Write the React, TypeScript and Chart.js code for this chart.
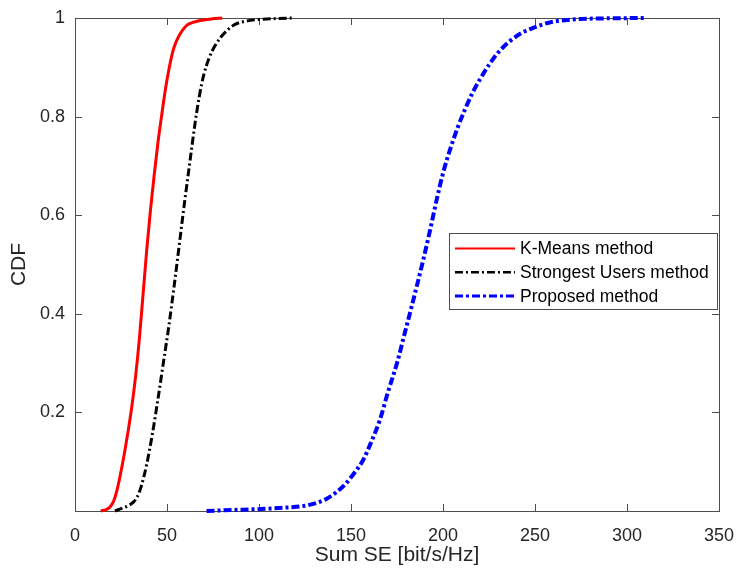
import React, { useEffect, useRef } from "react";
import { Chart, registerables } from "chart.js";

Chart.register(...registerables);

// K-Means method (CDF)
const kmeansX = [14, 17, 19, 21, 23, 25, 27, 29, 31, 33, 35, 37, 39, 41, 43, 45, 47, 49, 51, 53, 55, 57, 59, 61, 64, 68, 74, 80];
const kmeansY = [0, 0.003, 0.008, 0.02, 0.045, 0.08, 0.12, 0.165, 0.215, 0.275, 0.35, 0.44, 0.53, 0.61, 0.68, 0.745, 0.8, 0.852, 0.895, 0.93, 0.952, 0.967, 0.978, 0.986, 0.991, 0.995, 0.998, 1];

// Strongest Users method (CDF)
const strongestX = [21.7, 26, 29, 31.7, 34, 36, 39, 42, 45, 48, 51, 54, 57, 59.5, 62.5, 65, 67.5, 70, 73, 76, 79, 83, 87, 92, 100, 110, 118];
const strongestY = [0, 0.006, 0.011, 0.018, 0.03, 0.05, 0.095, 0.155, 0.225, 0.3, 0.375, 0.46, 0.55, 0.625, 0.71, 0.78, 0.84, 0.885, 0.92, 0.943, 0.96, 0.976, 0.987, 0.993, 0.997, 0.999, 1];

// Proposed method (CDF)
const proposedX = [71.5, 85, 100.5, 115, 124, 131, 136.8, 142, 147, 152, 156.7, 161, 165.8, 170, 175, 179.3, 184, 189.3, 193, 196.6, 200, 204, 208, 212, 216, 220, 225, 230, 236, 242, 249, 258, 270, 285, 310];
const proposedY = [0, 0.002, 0.004, 0.007, 0.01, 0.016, 0.025, 0.038, 0.055, 0.078, 0.104, 0.14, 0.186, 0.24, 0.3, 0.362, 0.43, 0.51, 0.57, 0.632, 0.685, 0.735, 0.778, 0.815, 0.848, 0.875, 0.905, 0.93, 0.952, 0.968, 0.98, 0.991, 0.997, 0.999, 1];

const seriesLabels = ["K-Means method", "Strongest Users method", "Proposed method"];
const xTicks = [0, 50, 100, 150, 200, 250, 300, 350];
const yTicks = [0.2, 0.4, 0.6, 0.8, 1];

const FONT = "'Liberation Sans', Arial, Helvetica, sans-serif";
const TXT = "#262626";

const toPts = (xs: number[], ys: number[]) => xs.map((x, i) => ({ x, y: ys[i] }));

const framePlugin = {
  id: "frame",
  beforeDatasetsDraw(chart: any) {
    const { ctx, chartArea, scales } = chart;
    const { left, right, top, bottom } = chartArea;
    const tl = 7;
    ctx.save();
    ctx.strokeStyle = "#4d4d4d";
    ctx.lineWidth = 1;
    ctx.strokeRect(left + 0.5, top + 0.5, right - left, bottom - top);
    ctx.beginPath();
    xTicks.forEach((v) => {
      const px = Math.round(scales.x.getPixelForValue(v)) + 0.5;
      ctx.moveTo(px, bottom);
      ctx.lineTo(px, bottom - tl);
      ctx.moveTo(px, top);
      ctx.lineTo(px, top + tl);
    });
    yTicks.forEach((v) => {
      const py = Math.round(scales.y.getPixelForValue(v)) + 0.5;
      ctx.moveTo(left, py);
      ctx.lineTo(left + tl, py);
      ctx.moveTo(right, py);
      ctx.lineTo(right - tl, py);
    });
    ctx.stroke();
    ctx.restore();
  },
};

const legendPlugin = {
  id: "boxLegend",
  afterDatasetsDraw(chart: any) {
    const { ctx, chartArea } = chart;
    const bw = 268;
    const bh = 76;
    const bx = chartArea.right - 2 - bw;
    const by = chartArea.top + 215;
    ctx.save();
    ctx.fillStyle = "#ffffff";
    ctx.fillRect(bx, by, bw, bh);
    ctx.strokeStyle = "#4d4d4d";
    ctx.lineWidth = 1;
    ctx.strokeRect(bx + 0.5, by + 0.5, bw, bh);
    ctx.font = `17.5px ${FONT}`;
    ctx.textBaseline = "middle";
    ctx.textAlign = "left";
    chart.data.datasets.forEach((ds: any, i: number) => {
      const cy = by + 15.5 + i * 23.8;
      ctx.beginPath();
      ctx.strokeStyle = ds.borderColor;
      ctx.lineWidth = ds.legendWidth;
      ctx.setLineDash(ds.borderDash || []);
      ctx.moveTo(bx + 6, cy);
      ctx.lineTo(bx + 66, cy);
      ctx.stroke();
      ctx.setLineDash([]);
      ctx.fillStyle = "#000000";
      ctx.fillText(ds.label, bx + 71, cy + 1);
    });
    ctx.restore();
  },
};

export default function App() {
  const ref = useRef<HTMLCanvasElement | null>(null);

  useEffect(() => {
    if (!ref.current) return;
    const common = {
      pointRadius: 0,
      cubicInterpolationMode: "monotone",
      clip: false,
    };
    const chart = new Chart(ref.current, {
      type: "line",
      data: {
        datasets: [
          {
            ...common,
            label: seriesLabels[0],
            data: toPts(kmeansX, kmeansY),
            borderColor: "#ff0000",
            borderWidth: 3,
            legendWidth: 2,
          } as any,
          {
            ...common,
            label: seriesLabels[1],
            data: toPts(strongestX, strongestY),
            borderColor: "#000000",
            borderWidth: 3,
            legendWidth: 2.5,
            borderDash: [8, 3, 2, 3],
          } as any,
          {
            ...common,
            label: seriesLabels[2],
            data: toPts(proposedX, proposedY),
            borderColor: "#0000ff",
            borderWidth: 4,
            legendWidth: 3,
            borderDash: [8, 3, 3, 3],
          } as any,
        ],
      },
      options: {
        animation: false,
        responsive: false,
        devicePixelRatio: 1,
        layout: { padding: { top: 18, right: 17, left: 0, bottom: 0 } },
        plugins: { legend: { display: false }, tooltip: { enabled: false } },
        scales: {
          x: {
            type: "linear",
            min: 0,
            max: 350,
            grid: { display: false, drawTicks: false },
            border: { display: false },
            afterBuildTicks: (s: any) => {
              s.ticks = xTicks.map((v) => ({ value: v }));
            },
            afterFit: (s: any) => {
              s.height = 60;
              s.paddingLeft = 0;
              s.paddingRight = 0;
            },
            ticks: {
              color: TXT,
              font: { family: FONT, size: 18 },
              padding: 14,
              maxRotation: 0,
              autoSkip: false,
              callback: (v: any) => String(v),
            },
            title: {
              display: true,
              text: "Sum SE [bit/s/Hz]",
              color: TXT,
              font: { family: FONT, size: 21, lineHeight: 1.2 },
              padding: { top: 0, bottom: 3 },
            },
          },
          y: {
            type: "linear",
            min: 0,
            max: 1,
            grid: { display: false, drawTicks: false },
            border: { display: false },
            afterBuildTicks: (s: any) => {
              s.ticks = yTicks.map((v) => ({ value: v }));
            },
            afterFit: (s: any) => {
              s.width = 75;
              s.paddingTop = 0;
              s.paddingBottom = 0;
            },
            ticks: {
              color: TXT,
              font: { family: FONT, size: 18 },
              padding: 10,
              autoSkip: false,
              callback: (v: any) => String(Number(Number(v).toFixed(1))),
            },
            title: {
              display: true,
              text: "CDF",
              color: TXT,
              font: { family: FONT, size: 21, lineHeight: 1.2 },
              padding: { top: 7, bottom: 0 },
            },
          },
        },
      } as any,
      plugins: [framePlugin, legendPlugin],
    });
    return () => chart.destroy();
  }, []);

  return (
    <div style={{ position: "absolute", left: 0, top: 0, width: 736, height: 571, background: "#ffffff" }}>
      <canvas ref={ref} width={736} height={571} style={{ display: "block" }} />
    </div>
  );
}
